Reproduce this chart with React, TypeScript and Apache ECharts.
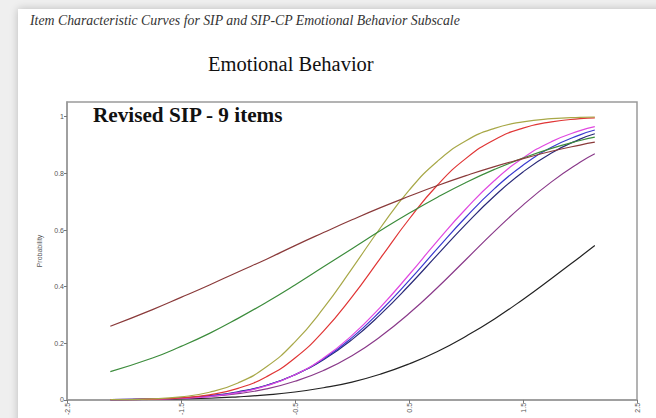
import React, { useEffect, useRef } from "react";
import * as echarts from "echarts";

const theta = [-2.12, -1.75, -1.5, -1.25, -1, -0.75, -0.5, -0.25, 0, 0.25, 0.5, 0.75, 1, 1.25, 1.5, 1.75, 2, 2.13];

const brown = [0.260, 0.319, 0.362, 0.406, 0.452, 0.497, 0.545, 0.591, 0.636, 0.679, 0.719, 0.757, 0.792, 0.824, 0.852, 0.878, 0.900, 0.910];
const green = [0.100, 0.148, 0.189, 0.235, 0.288, 0.345, 0.406, 0.470, 0.534, 0.598, 0.659, 0.716, 0.768, 0.814, 0.854, 0.888, 0.916, 0.928];
const olive = [0.001, 0.004, 0.011, 0.027, 0.060, 0.117, 0.205, 0.324, 0.464, 0.608, 0.740, 0.843, 0.915, 0.959, 0.982, 0.993, 0.998, 0.999];
const red = [0.001, 0.003, 0.007, 0.018, 0.041, 0.082, 0.148, 0.243, 0.364, 0.501, 0.638, 0.759, 0.853, 0.919, 0.960, 0.982, 0.993, 0.996];
const magenta = [0.001, 0.002, 0.006, 0.012, 0.026, 0.050, 0.089, 0.148, 0.228, 0.328, 0.442, 0.562, 0.675, 0.775, 0.854, 0.912, 0.951, 0.965];
const blue = [0.001, 0.003, 0.006, 0.014, 0.027, 0.051, 0.089, 0.145, 0.220, 0.314, 0.421, 0.535, 0.646, 0.746, 0.829, 0.892, 0.936, 0.953];
const navy = [0.001, 0.003, 0.007, 0.015, 0.029, 0.052, 0.089, 0.142, 0.213, 0.302, 0.404, 0.513, 0.621, 0.720, 0.805, 0.872, 0.921, 0.940];
const purple = [0.001, 0.003, 0.006, 0.012, 0.022, 0.039, 0.066, 0.104, 0.156, 0.224, 0.305, 0.397, 0.496, 0.595, 0.688, 0.770, 0.839, 0.869];
const black = [0.001, 0.002, 0.004, 0.006, 0.011, 0.018, 0.028, 0.043, 0.063, 0.091, 0.127, 0.171, 0.225, 0.286, 0.355, 0.429, 0.505, 0.545];

const xTicks = ["-2.5", "-1.5", "-0.5", "0.5", "1.5", "2.5"];

const seriesDefs: [string, number[], string][] = [
  ["Item 9", black, "#222222"],
  ["Item 8", purple, "#8a3a8a"],
  ["Item 7", navy, "#2a2a78"],
  ["Item 6", blue, "#3a3ad0"],
  ["Item 5", magenta, "#e048e0"],
  ["Item 4", red, "#e03535"],
  ["Item 3", olive, "#a8a848"],
  ["Item 2", green, "#3c8c3c"],
  ["Item 1", brown, "#8a3a3a"],
];

const SERIF = "Liberation Serif";

export default function App() {
  const ref = useRef<HTMLDivElement>(null);
  useEffect(() => {
    if (!ref.current) return;
    const chart = echarts.init(ref.current, null, { renderer: "svg" });
    chart.setOption({
      animation: false,
      backgroundColor: "transparent",
      grid: {
        left: 67,
        right: 19,
        top: 102,
        bottom: 11,
        show: true,
        borderColor: "#9a9a9a",
        borderWidth: 1.5,
      },
      graphic: [
        {
          type: "text",
          x: 30,
          y: 20,
          z: 100,
          style: {
            text: "Item Characteristic Curves for SIP and SIP-CP Emotional Behavior Subscale",
            fontFamily: SERIF,
            fontStyle: "italic",
            fontSize: 13.8,
            fill: "#333",
            verticalAlign: "middle",
          },
        },
        {
          type: "text",
          x: 208,
          y: 64,
          z: 100,
          style: {
            text: "Emotional Behavior",
            fontFamily: SERIF,
            fontSize: 20.5,
            fill: "#111",
            verticalAlign: "middle",
          },
        },
        {
          type: "text",
          x: 93,
          y: 115,
          z: 100,
          style: {
            text: "Revised SIP - 9 items",
            fontFamily: SERIF,
            fontWeight: "bold",
            fontSize: 21.2,
            fill: "#111",
            verticalAlign: "middle",
          },
        },
      ],
      xAxis: {
        type: "value",
        min: -2.5,
        max: 2.5,
        interval: 1,
        splitLine: { show: false },
        axisLine: { show: true, onZero: false, lineStyle: { color: "#9a9a9a", width: 1.5 } },
        axisTick: { show: true, length: 3, lineStyle: { color: "#777" } },
        axisLabel: {
          rotate: 90,
          fontSize: 7,
          color: "#555",
          margin: 3,
          formatter: (v: number) => {
            const idx = Math.round(v + 2.5);
            return xTicks[idx] ?? "";
          },
        },
      },
      yAxis: {
        type: "value",
        min: 0,
        max: 1.052,
        interval: 0.2,
        name: "Probability",
        nameLocation: "middle",
        nameGap: 20,
        nameTextStyle: { fontSize: 7, color: "#555" },
        splitLine: { show: false },
        axisLine: { show: true, onZero: false, lineStyle: { color: "#9a9a9a", width: 1.5 } },
        axisTick: { show: true, length: 3, lineStyle: { color: "#777" } },
        axisLabel: {
          fontSize: 7,
          color: "#555",
          margin: 3,
          showMaxLabel: false,
          formatter: (v: number) => {
            const k = Math.round(v * 5);
            if (Math.abs(v * 5 - k) > 1e-6) return "";
            return k === 5 ? "1" : k === 0 ? "0" : (k / 5).toFixed(1);
          },
        },
      },
      series: seriesDefs.map(([name, vals, color]) => ({
        name,
        type: "line",
        data: theta.map((t, i) => [t, vals[i]]),
        smooth: true,
        symbol: "none",
        lineStyle: { color, width: 1.2 },
      })),
    });
    return () => chart.dispose();
  }, []);

  return (
    <div
      style={{
        position: "fixed",
        left: 0,
        top: 0,
        width: 656,
        height: 418,
        background: "#efefef",
        overflow: "hidden",
      }}
    >
      <div
        style={{
          position: "absolute",
          left: 18,
          top: 9,
          width: 660,
          height: 420,
          background: "#ffffff",
          boxShadow: "0 0 8px rgba(0,0,0,0.22)",
        }}
      />
      <div
        ref={ref}
        style={{ position: "absolute", left: 0, top: 0, width: 656, height: 418 }}
      />
    </div>
  );
}
